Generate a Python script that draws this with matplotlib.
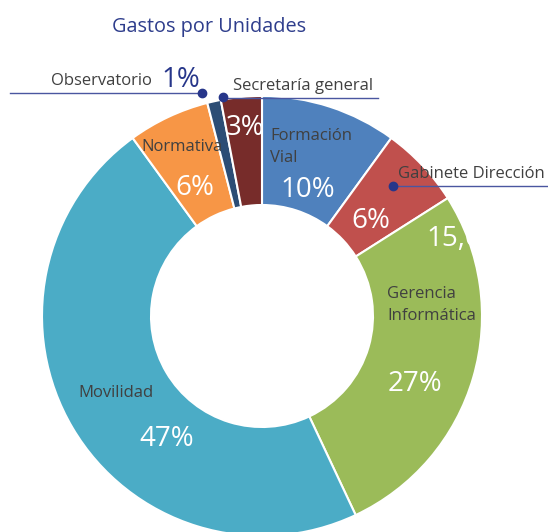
import matplotlib.pyplot as plt

# -------------------------------
# Data
# -------------------------------
units = ["Formación\nVial", "Gabinete Dirección", "Gerencia\nInformática", "Movilidad",
         "Normativa", "Observatorio", "Secretaría general"]
shares = [10, 6, 27, 47, 6, 1, 3]
colors = ["#4F81BD", "#C0504D", "#9BBB59", "#4BACC6", "#F79646", "#2C4D75", "#772C2A"]
title = "Gastos por Unidades"

plt.rcParams['font.family'] = ['Open Sans', 'DejaVu Sans']

W, H = 548, 532
CX, CY = 262, 316   # donut centre in pixels


def px(x, y):
    """pixel position (from top-left) -> data coords (centre of donut at origin)"""
    return x - CX, CY - y


fig = plt.figure(figsize=(W / 100, H / 100), dpi=100)
ax = fig.add_axes([0, 0, 1, 1])

wedges, _ = ax.pie(shares, colors=colors, startangle=90, counterclock=False,
                   radius=220, wedgeprops=dict(width=109, edgecolor='white', linewidth=1.5))

# pie() resets the limits, so set them afterwards
ax.set_xlim(-CX, W - CX)
ax.set_ylim(CY - H, CY)
ax.set_aspect('equal')
ax.axis('off')

label_col = "#404040"
navy = "#27368A"
pct = dict(color='white', fontsize=20, ha='center', va='center')
lab = dict(color=label_col, fontsize=12, va='center')

# title
ax.text(*px(209, 27), title, color="#2E3D8C", fontsize=14.3, ha='center', va='center')

# labels inside wedges
ax.text(*px(270, 147), units[0], ha='left', linespacing=1.55, **lab)
ax.text(*px(308, 190), f"{shares[0]}%", **pct)

ax.text(*px(398, 174), units[1], ha='left', **lab)
ax.text(*px(371, 221), f"{shares[1]}%", **pct)

t = ax.text(*px(426, 239), "15,6", ha='left', **{k: v for k, v in pct.items() if k != 'ha'})
t.set_clip_path(wedges[2])

ax.text(*px(387, 305), units[2], ha='left', linespacing=1.55, **lab)
ax.text(*px(415, 384), f"{shares[2]}%", **pct)

ax.text(*px(78, 393), units[3], ha='left', **lab)
ax.text(*px(167, 439), f"{shares[3]}%", **pct)

ax.text(*px(141, 147), units[4], ha='left', **lab)
ax.text(*px(195, 188), f"{shares[4]}%", **pct)

ax.text(*px(245, 128), f"{shares[6]}%", **pct)

# outside labels with leader lines
ax.plot(*zip(px(10, 93), px(202, 93)), color="#4A56A0", lw=1)
ax.plot(*px(202, 93), 'o', color=navy, ms=6)
ax.text(*px(152, 81), units[5], ha='right', **lab)
ax.text(*px(181, 80), f"{shares[5]}%", color=navy, fontsize=20, ha='center', va='center')

ax.plot(*zip(px(223, 98), px(378, 98)), color="#4A56A0", lw=1)
ax.plot(*px(223, 97), 'o', color=navy, ms=6)
ax.text(*px(233, 86), units[6], ha='left', **lab)

ax.plot(*zip(px(393, 186), px(548, 186)), color="#4A56A0", lw=1)
ax.plot(*px(393, 186), 'o', color=navy, ms=6)

fig.savefig("out.png", dpi=100)
